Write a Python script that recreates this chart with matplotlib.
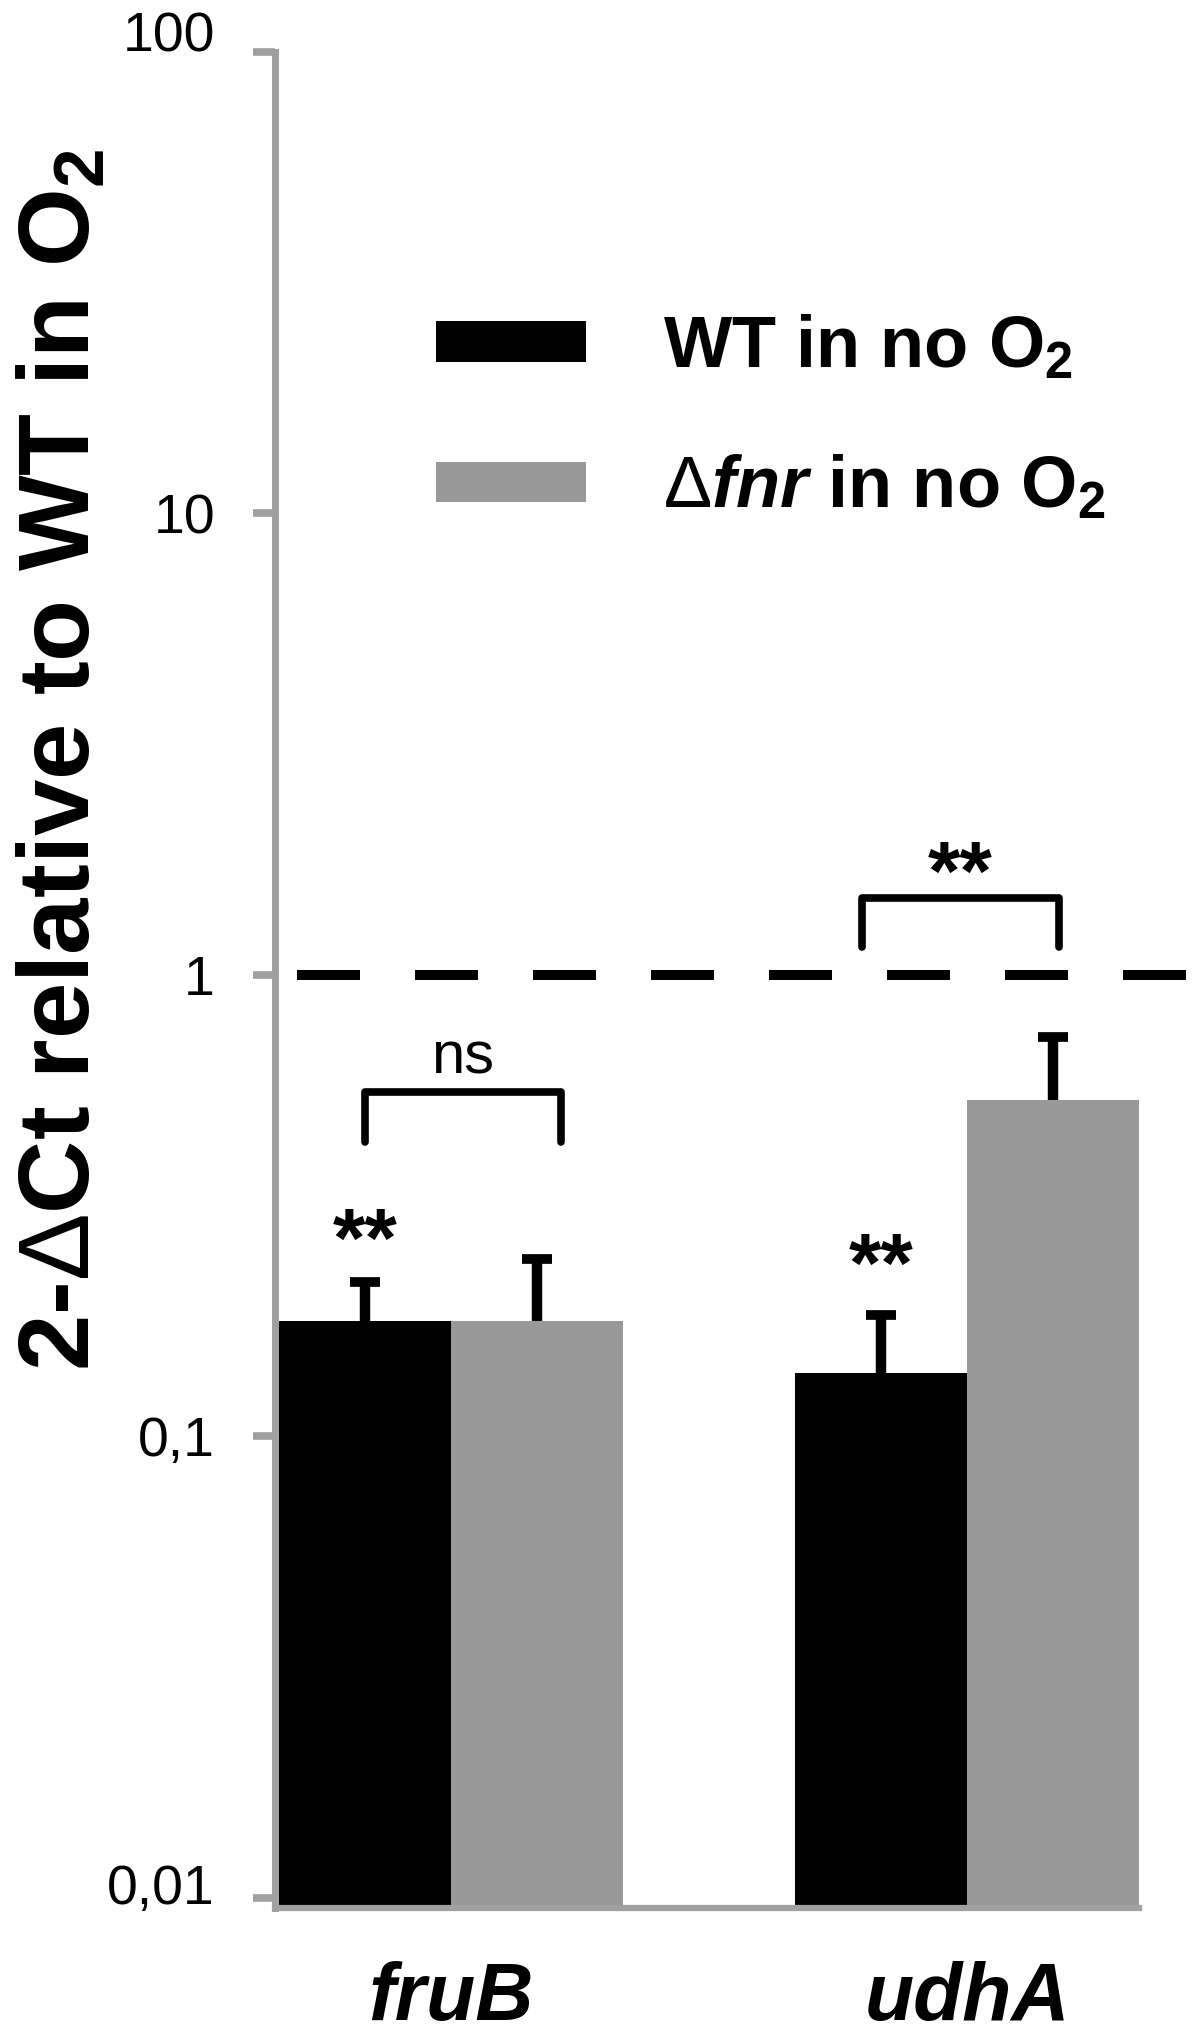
import matplotlib
matplotlib.use("Agg")
import matplotlib.pyplot as plt
from matplotlib.patches import Patch
from matplotlib.ticker import NullLocator
from matplotlib.transforms import ScaledTranslation

plt.rcParams["font.family"] = ["Liberation Sans", "DejaVu Sans"]
plt.rcParams["mathtext.fontset"] = "custom"
plt.rcParams["mathtext.rm"] = "Liberation Sans"
plt.rcParams["mathtext.bf"] = "Liberation Sans:bold"
plt.rcParams["mathtext.it"] = "Liberation Sans:bold:italic"
plt.rcParams["mathtext.default"] = "bf"

# --- data ---
genes = ["fruB", "udhA"]
group_pos = [0, 3]
series_labels = ["WT in no O$_2$", r"$\mathrm{\Delta}\mathit{fnr}$ in no O$_2$"]
series_colors = ["#000000", "#999999"]
wt_vals = [0.178, 0.137]
wt_err = [0.038, 0.046]
fnr_vals = [0.178, 0.535]
fnr_err = [0.064, 0.198]

ytick_values = [0.01, 0.1, 1, 10, 100]
ytick_labels = ["0,01", "0,1", "1", "10", "100"]

# significance brackets: (x_left, x_right), (y_leg_bottom, y_top), label, label y
bracket_x = [(-0.5, 0.64), (2.39, 3.535)]
bracket_y = [(0.434, 0.557), (1.15, 1.47)]
bracket_text = ["ns", "**"]
bracket_text_y = [0.66, 1.62]
# stars over the WT bars
wt_star_y = [0.26, 0.23]

axis_gray = "#a0a0a0"
bar_w = 1.0

fig = plt.figure(figsize=(12, 20.39), dpi=100)
ax = fig.add_axes([0.229, 0.0642, 0.769, 0.9103])

wt_x = [g - bar_w / 2 for g in group_pos]
fnr_x = [g + bar_w / 2 for g in group_pos]

for xs, vals, errs, color, lab in [
    (wt_x, wt_vals, wt_err, series_colors[0], series_labels[0]),
    (fnr_x, fnr_vals, fnr_err, series_colors[1], series_labels[1]),
]:
    ax.bar(xs, vals, width=bar_w, color=color, edgecolor="none", label=lab, zorder=2)
    _, caps, _ = ax.errorbar(xs, vals, yerr=[[0] * len(errs), errs], fmt="none",
                             ecolor="black", elinewidth=7.5, capsize=10.8,
                             capthick=7, zorder=3)
    # only the upper cap is drawn (T shape)
    caps[0].set_visible(False)

ax.set_yscale("log")
ax.set_ylim(0.0095, 100)
ax.set_xlim(-1.023, 4.34)

# reference line at 1
ax.axhline(1, color="black", lw=7.2, linestyle=(9.6, (6.3, 5.5)),
           dash_capstyle="butt", zorder=1)

# brackets
for (xl, xr), (yb, yt), txt, ty in zip(bracket_x, bracket_y, bracket_text, bracket_text_y):
    ax.plot([xl, xl, xr, xr], [yb, yt, yt, yb], color="black", lw=5.5,
            solid_joinstyle="round", solid_capstyle="round", zorder=4)
    if txt == "ns":
        ax.text((xl + xr) / 2, ty, txt, ha="center", va="center", fontsize=43)
    else:
        ax.text((xl + xr) / 2, ty, txt, ha="center", va="center", fontsize=60,
                fontweight="bold")

for x, y in zip(wt_x, wt_star_y):
    ax.text(x, y, "**", ha="center", va="center", fontsize=60, fontweight="bold")

# axes styling
for side in ["top", "right"]:
    ax.spines[side].set_visible(False)
ax.spines["left"].set_color(axis_gray)
ax.spines["left"].set_linewidth(5)
ax.spines["bottom"].set_color(axis_gray)
ax.spines["bottom"].set_linewidth(4.5)
ax.spines["bottom"].set_bounds(-1.023, group_pos[-1] + bar_w)
ax.spines["left"].set_bounds(0.0095, 100)

ax.set_yticks(ytick_values, ytick_labels)
ax.yaxis.set_minor_locator(NullLocator())
ax.tick_params(axis="y", which="major", length=16, width=5.5, color=axis_gray,
               labelsize=40, pad=27)
ax.set_xticks(group_pos, genes)
ax.tick_params(axis="x", length=0, pad=38, labelsize=58)
for lbl in ax.get_xticklabels():
    lbl.set_fontweight("bold")
    lbl.set_fontstyle("italic")

# the end labels sit a little above their ticks in the original
for tick, dy in zip(ax.yaxis.get_major_ticks(), [0.14, 0, 0, 0, 0.2]):
    if dy:
        tick.label1.set_transform(tick.label1.get_transform()
                                  + ScaledTranslation(0, dy, fig.dpi_scale_trans))

ax.set_ylabel(r"2-$\mathrm{\Delta}$Ct relative to WT in O$_2$", fontsize=73,
              fontweight="bold")
ax.yaxis.set_label_coords(-0.179, 0.6185)
ax.yaxis.label.set_va("bottom")

handles = [Patch(facecolor=c, edgecolor="none") for c in series_colors]
ax.legend(handles, series_labels, loc="upper left", bbox_to_anchor=(0.1744, 0.859),
          frameon=False, prop={"weight": "bold", "size": 52},
          handlelength=2.08, handleheight=0.49, handletextpad=1.07,
          labelspacing=1.0, borderpad=0, borderaxespad=0)

fig.savefig("out.png", dpi=100)
